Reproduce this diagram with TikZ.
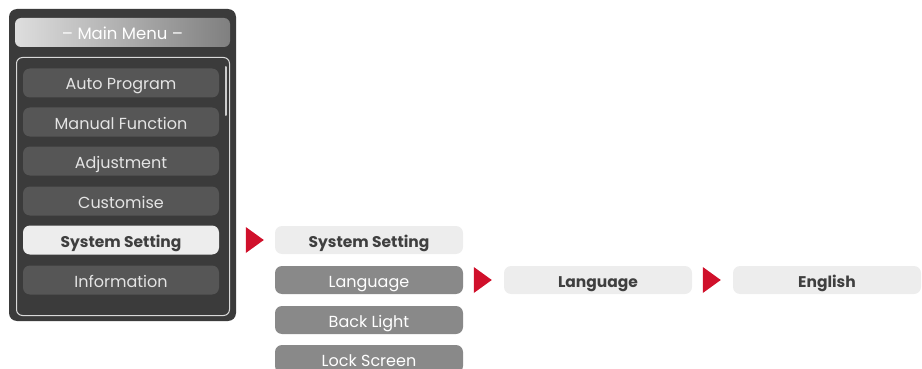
\documentclass[tikz,border=0pt]{standalone}
\usepackage{fontspec}
\setmainfont{Poppins}
\usetikzlibrary{calc}
\definecolor{panel}{HTML}{3B3B3B}
\definecolor{btn}{HTML}{565656}
\definecolor{btntext}{HTML}{E4E4E4}
\definecolor{light}{HTML}{EDEDED}
\definecolor{mid}{HTML}{898989}
\definecolor{ink}{HTML}{3F3F3F}
\definecolor{mark}{HTML}{D0102B}
\tikzset{
  label font/.style={font=\fontsize{16}{17}\selectfont, text height=15.5pt, text depth=1.5pt},
  menubtn/.style={label font, rounded corners=7pt, fill=btn, text=btntext, minimum width=196pt, minimum height=29pt, inner sep=0pt},
  selbtn/.style={menubtn, fill=light, text=ink, font=\fontsize{15.5}{17}\selectfont\bfseries},
  subhead/.style={label font, rounded corners=7pt, fill=light, text=ink, minimum width=188pt, minimum height=28pt, inner sep=0pt, font=\fontsize{15.5}{17}\selectfont\bfseries},
  subitem/.style={label font, rounded corners=7pt, fill=mid, text=white, minimum width=188pt, minimum height=28pt, inner sep=0pt},
  pointer/.style={fill=mark}
}
\begin{document}
\begin{tikzpicture}[x=1pt,y=-1pt]
\useasboundingbox (0,0) rectangle (922,369);
% main menu panel
\fill[panel, rounded corners=8pt] (9,9) rectangle (236,321);
\shade[rounded corners=6pt, left color=black!13, right color=black!50] (15,18) rectangle (230,47);
\node[label font, text=white, font=\fontsize{16.5}{17}\selectfont] (title) at (122.5,33) {– Main Menu –};
\draw[black!15, line width=1pt, rounded corners=6pt] (16.5,57.5) rectangle (229.5,315.5);
% scroll bar
\draw[black!20, line width=2pt, line cap=round] (226,67) -- (226,115);
% menu entries
\node[menubtn] (auto)   at (121,83)  {Auto Program};
\node[menubtn] (manual) at (121,122) {Manual Function};
\node[menubtn] (adjust) at (121,161) {Adjustment};
\node[menubtn] (custom) at (121,201) {Customise};
\node[selbtn]  (system) at (121,240) {System Setting};
\node[menubtn] (info)   at (121,280) {Information};
% system setting submenu
\node[subhead] (syshead) at (369,240) {System Setting};
\node[subitem] (lang)    at (369,280) {Language};
\node[subitem] (back)    at (369,320) {Back Light};
\node[subitem] (lock)    at (369,359) {Lock Screen};
% language submenu
\node[subhead] (langhead) at (598,280) {Language};
\node[subhead] (english)  at (827,280) {English};
% pointers
\fill[pointer] ($(syshead.west)+(-29,-13)$) -- ++(18,13) -- ++(-18,13) -- cycle;
\fill[pointer] ($(langhead.west)+(-30,-13)$) -- ++(18,13) -- ++(-18,13) -- cycle;
\fill[pointer] ($(english.west)+(-30,-13)$) -- ++(18,13) -- ++(-18,13) -- cycle;
\end{tikzpicture}
\end{document}
